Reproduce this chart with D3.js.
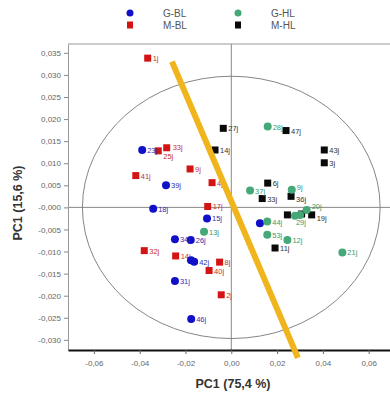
<!DOCTYPE html>
<meta charset="utf-8">
<script src="https://d3js.org/d3.v7.min.js"></script>
<style>
  body { margin: 0; background: #fff; }
  text { font-family: "Liberation Sans", Arial, sans-serif; }
</style>
<div id="chart"></div>
<script>
// series: label, PC1, PC2
var gBL = [["23j",-0.0389,0.0130],["39j",-0.0285,0.0050],["18j",-0.0341,-0.0003],["15j",-0.0106,-0.0025],
           ["34j",-0.0246,-0.0072],["26j",-0.0177,-0.0074],["",-0.0176,-0.0120],["42j",-0.0162,-0.0123],
           ["31j",-0.0246,-0.0167],["46j",-0.0175,-0.0253],["",0.0125,-0.0036]];
var gHL = [["28j",0.0159,0.0183],["37j",0.0082,0.0038],["9j",0.0264,0.0040],["13j",-0.0119,-0.0055],
           ["44j",0.0157,-0.0032],["53j",0.0157,-0.0062],["12j",0.0245,-0.0074],["21j",0.0485,-0.0102],
           ["29j",0.0278,-0.0019],["",0.0300,-0.0017],["20j",0.0329,-0.0006]];
var mBL = [["1j",-0.0365,0.0338],["25j",-0.0319,0.0128],["33j",-0.0282,0.0135],["9j",-0.0180,0.0087],
           ["41j",-0.0417,0.0072],["4j",-0.0084,0.0056],["17j",-0.0103,0.0002],["32j",-0.0380,-0.0098],
           ["14j",-0.0243,-0.0110],["8j",-0.0051,-0.0124],["40j",-0.0097,-0.0143],["2j",-0.0044,-0.0198]];
var mHL = [["27j",-0.0035,0.0179],["47j",0.0239,0.0174],["14j",-0.0071,0.0130],["43j",0.0406,0.0130],
           ["3j",0.0406,0.0101],["6j",0.0159,0.0055],["33j",0.0135,0.0020],["36j",0.0261,0.0025],
           ["11j",0.0191,-0.0092],["",0.0245,-0.0017],["",0.0307,-0.0015],["19j",0.0351,-0.0017]];

var xTicks = [-0.06,-0.04,-0.02,0,0.02,0.04,0.06];
var xTickLabels = ["-0,06","-0,04","-0,02","0,00","0,02","0,04","0,06"];
var yTicks = [0.035,0.030,0.025,0.020,0.015,0.010,0.005,0,-0.005,-0.010,-0.015,-0.020,-0.025,-0.030];
var yTickLabels = ["0,035","0,030","0,025","0,020","0,015","0,010","0,005","-0,000","-0,005","-0,010","-0,015","-0,020","-0,025","-0,030"];

var ellipseR = [0.065, 0.0297];            // confidence ellipse half-axes
var splitLine = [[-0.0259,0.0330],[0.0291,-0.0341]];

// small label nudges (px) where labels would collide
var nudge = {"mBL25j":[0,5], "mBL33j":[1,-1], "gHL9j":[0,-3], "mHL36j":[0,3], "gHL20j":[0,-4], "mHL19j":[0,3], "gHL29j":[-4,6], "gBL23j":[0,0]};

var width = 390, height = 393;
var svg = d3.select("#chart").append("svg").attr("width", width).attr("height", height);

var x = d3.scaleLinear().domain([-0.0713, 0.0693]).range([68, 390]);
var y = d3.scaleLinear().domain([-0.0323, 0.0370]).range([350, 44]);

// frame top + zero lines
svg.append("line").attr("x1",68).attr("x2",390).attr("y1",44).attr("y2",44).style("stroke","#999");
svg.append("line").attr("x1",68).attr("x2",390).attr("y1",y(0)).attr("y2",y(0)).style("stroke","#888");
svg.append("line").attr("x1",x(0)).attr("x2",x(0)).attr("y1",44).attr("y2",350).style("stroke","#888");

svg.append("ellipse")
  .attr("cx", x(0)).attr("cy", y(0))
  .attr("rx", x(ellipseR[0]) - x(0)).attr("ry", y(0) - y(ellipseR[1]))
  .style("fill","none").style("stroke","#777").style("stroke-width",0.9);

// axes
var yAxis = svg.append("g").attr("transform","translate(68,0)")
  .call(d3.axisLeft(y).tickValues(yTicks).tickSize(4).tickSizeOuter(0)
        .tickFormat(function(d,i){ return yTickLabels[i]; }));
yAxis.select(".domain").style("stroke","#999");
yAxis.selectAll(".tick line").style("stroke","#888");
yAxis.selectAll("text").style("font-size","8px").style("fill","#666");

var xAxis = svg.append("g").attr("transform","translate(0,350)")
  .call(d3.axisBottom(x).tickValues(xTicks).tickSize(4).tickSizeOuter(0)
        .tickFormat(function(d,i){ return xTickLabels[i]; }));
xAxis.select(".domain").style("stroke","#111").style("stroke-width",2);
xAxis.selectAll(".tick line").style("stroke","#666");
xAxis.selectAll("text").style("font-size","8px").style("fill","#666").attr("dy","1.1em");

svg.append("text").attr("x",233).attr("y",388).attr("text-anchor","middle")
  .style("font-size","12.5px").style("font-weight","bold").style("fill","#333").text("PC1 (75,4 %)");
svg.append("text").attr("transform","translate(22,203) rotate(-90)").attr("text-anchor","middle")
  .style("font-size","12.5px").style("font-weight","bold").style("fill","#333").text("PC1 (15,6 %)");

// points
function drawSeries(key, data, shape, color, labelColor) {
  var g = svg.append("g");
  if (shape === "circle") {
    g.selectAll("circle").data(data).enter().append("circle")
      .attr("cx", function(d){ return x(d[1]); }).attr("cy", function(d){ return y(d[2]); })
      .attr("r", 4).style("fill", color);
  } else {
    g.selectAll("rect").data(data).enter().append("rect")
      .attr("x", function(d){ return x(d[1]) - 3.5; }).attr("y", function(d){ return y(d[2]) - 3.5; })
      .attr("width", 7).attr("height", 7).style("fill", color);
  }
  g.selectAll("text").data(data).enter().append("text")
    .attr("x", function(d){ var n = nudge[key + d[0]] || [0,0]; return x(d[1]) + 5 + n[0]; })
    .attr("y", function(d){ var n = nudge[key + d[0]] || [0,0]; return y(d[2]) + 3 + n[1]; })
    .style("font-size","7.5px").style("fill", labelColor)
    .text(function(d){ return d[0]; });
}
drawSeries("mBL", mBL, "rect", "#d41414", "#c03030");
drawSeries("gBL", gBL, "circle", "#1010c8", "#3030b0");
drawSeries("mHL", mHL, "rect", "#0a0a0a", "#333");
drawSeries("gHL", gHL, "circle", "#45a878", "#3a9a6a");

svg.append("line")
  .attr("x1", x(splitLine[0][0])).attr("y1", y(splitLine[0][1]))
  .attr("x2", x(splitLine[1][0])).attr("y2", y(splitLine[1][1]))
  .style("stroke","#f0b41c").style("stroke-width",6);

// legend
var legend = [["G-BL","circle","#1010c8",130,13],["M-BL","rect","#d41414",130,25],
              ["G-HL","circle","#45a878",238,13],["M-HL","rect","#0a0a0a",238,25]];
legend.forEach(function(l){
  if (l[1] === "circle") svg.append("circle").attr("cx",l[3]).attr("cy",l[4]).attr("r",3.5).style("fill",l[2]);
  else svg.append("rect").attr("x",l[3]-3).attr("y",l[4]-3.5).attr("width",6).attr("height",7).style("fill",l[2]);
  svg.append("text").attr("x",l[3]+33).attr("y",l[4]+4).style("font-size","10px").style("fill","#555").text(l[0]);
});
</script>
